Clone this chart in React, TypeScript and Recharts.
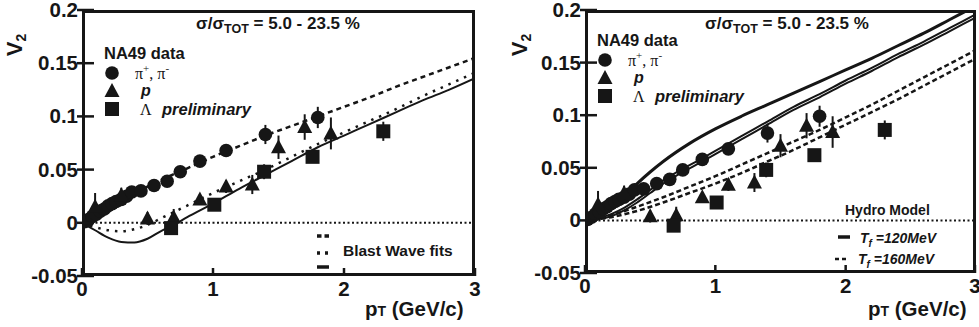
import React from "react";
import {
  ComposedChart,
  Line,
  Scatter,
  XAxis,
  YAxis,
  ReferenceLine,
  ErrorBar,
} from "recharts";

const INK = "#161616";
const FONT = "'Liberation Sans', Arial, Helvetica, sans-serif";
const SERIF = "'Liberation Serif', 'Times New Roman', serif";
const H = 327;

const xTicks = [0, 1, 2, 3];
const yTicks = [-0.05, 0, 0.05, 0.1, 0.15, 0.2];

// corners of the axis range, used to trace the closed frame
const frameCorners = [
  { pt: 0, v2: -0.05 },
  { pt: 0, v2: 0.2 },
  { pt: 3, v2: 0.2 },
  { pt: 3, v2: -0.05 },
  { pt: 0, v2: -0.05 },
];

// NA49 data points (pT in GeV/c, v2, stat. error)
const pions = [
  { pt: 0.02, v2: 0.001, err: 0.002 },
  { pt: 0.05, v2: 0.003, err: 0.002 },
  { pt: 0.08, v2: 0.006, err: 0.002 },
  { pt: 0.11, v2: 0.008, err: 0.002 },
  { pt: 0.14, v2: 0.011, err: 0.002 },
  { pt: 0.17, v2: 0.013, err: 0.002 },
  { pt: 0.2, v2: 0.016, err: 0.002 },
  { pt: 0.23, v2: 0.018, err: 0.002 },
  { pt: 0.26, v2: 0.02, err: 0.002 },
  { pt: 0.3, v2: 0.022, err: 0.002 },
  { pt: 0.34, v2: 0.025, err: 0.002 },
  { pt: 0.38, v2: 0.029, err: 0.002 },
  { pt: 0.45, v2: 0.03, err: 0.002 },
  { pt: 0.55, v2: 0.035, err: 0.002 },
  { pt: 0.65, v2: 0.039, err: 0.003 },
  { pt: 0.75, v2: 0.048, err: 0.003 },
  { pt: 0.9, v2: 0.058, err: 0.003 },
  { pt: 1.1, v2: 0.068, err: 0.004 },
  { pt: 1.4, v2: 0.083, err: 0.009 },
  { pt: 1.8, v2: 0.099, err: 0.01 },
];

const protons = [
  { pt: 0.1, v2: 0.015, err: 0.013 },
  { pt: 0.3, v2: 0.026, err: 0.007 },
  { pt: 0.5, v2: 0.004, err: 0.006 },
  { pt: 0.7, v2: 0.005, err: 0.008 },
  { pt: 0.9, v2: 0.022, err: 0.005 },
  { pt: 1.1, v2: 0.034, err: 0.006 },
  { pt: 1.3, v2: 0.036, err: 0.009 },
  { pt: 1.5, v2: 0.071, err: 0.011 },
  { pt: 1.7, v2: 0.09, err: 0.012 },
  { pt: 1.9, v2: 0.084, err: 0.015 },
];

const lambdas = [
  { pt: 0.68, v2: -0.005, err: 0.004 },
  { pt: 1.01, v2: 0.017, err: 0.003 },
  { pt: 1.39, v2: 0.048, err: 0.007 },
  { pt: 1.76, v2: 0.062, err: 0.004 },
  { pt: 2.3, v2: 0.086, err: 0.009 },
];

// Blast wave fits (left panel)
const bwPion = [
  { pt: 0, v2: 0 }, { pt: 0.1, v2: 0.007 }, { pt: 0.2, v2: 0.015 }, { pt: 0.3, v2: 0.022 },
  { pt: 0.4, v2: 0.028 }, { pt: 0.5, v2: 0.034 }, { pt: 0.6, v2: 0.04 }, { pt: 0.8, v2: 0.051 },
  { pt: 1.0, v2: 0.062 }, { pt: 1.2, v2: 0.072 }, { pt: 1.4, v2: 0.082 }, { pt: 1.6, v2: 0.091 },
  { pt: 1.8, v2: 0.1 }, { pt: 2.0, v2: 0.109 }, { pt: 2.2, v2: 0.118 }, { pt: 2.4, v2: 0.128 },
  { pt: 2.6, v2: 0.137 }, { pt: 2.8, v2: 0.146 }, { pt: 3.0, v2: 0.155 },
];
const bwProton = [
  { pt: 0, v2: 0 }, { pt: 0.1, v2: -0.004 }, { pt: 0.2, v2: -0.007 }, { pt: 0.3, v2: -0.008 },
  { pt: 0.4, v2: -0.006 }, { pt: 0.5, v2: -0.002 }, { pt: 0.6, v2: 0.004 }, { pt: 0.7, v2: 0.01 },
  { pt: 0.8, v2: 0.016 }, { pt: 1.0, v2: 0.028 }, { pt: 1.2, v2: 0.039 }, { pt: 1.4, v2: 0.05 },
  { pt: 1.6, v2: 0.062 }, { pt: 1.8, v2: 0.074 }, { pt: 2.0, v2: 0.085 }, { pt: 2.2, v2: 0.096 },
  { pt: 2.4, v2: 0.107 }, { pt: 2.6, v2: 0.119 }, { pt: 2.8, v2: 0.13 }, { pt: 3.0, v2: 0.141 },
];
const bwLambda = [
  { pt: 0, v2: 0 }, { pt: 0.1, v2: -0.007 }, { pt: 0.2, v2: -0.014 }, { pt: 0.3, v2: -0.018 },
  { pt: 0.4, v2: -0.0185 }, { pt: 0.5, v2: -0.015 }, { pt: 0.6, v2: -0.008 }, { pt: 0.7, v2: -0.002 },
  { pt: 0.8, v2: 0.005 }, { pt: 1.0, v2: 0.018 }, { pt: 1.2, v2: 0.032 }, { pt: 1.4, v2: 0.045 },
  { pt: 1.6, v2: 0.058 }, { pt: 1.8, v2: 0.071 }, { pt: 2.0, v2: 0.082 }, { pt: 2.2, v2: 0.093 },
  { pt: 2.4, v2: 0.104 }, { pt: 2.6, v2: 0.115 }, { pt: 2.8, v2: 0.125 }, { pt: 3.0, v2: 0.136 },
];

// Hydro model (right panel): Tf = 120 MeV solid, Tf = 160 MeV dashed
const hydro120a = [
  { pt: 0, v2: 0 }, { pt: 0.1, v2: 0.004 }, { pt: 0.2, v2: 0.012 }, { pt: 0.3, v2: 0.023 },
  { pt: 0.4, v2: 0.035 }, { pt: 0.5, v2: 0.046 }, { pt: 0.6, v2: 0.056 }, { pt: 0.8, v2: 0.073 },
  { pt: 1.0, v2: 0.087 }, { pt: 1.2, v2: 0.099 }, { pt: 1.4, v2: 0.11 }, { pt: 1.6, v2: 0.121 },
  { pt: 1.8, v2: 0.132 }, { pt: 2.0, v2: 0.143 }, { pt: 2.2, v2: 0.154 }, { pt: 2.4, v2: 0.166 },
  { pt: 2.6, v2: 0.178 }, { pt: 2.8, v2: 0.191 }, { pt: 3.0, v2: 0.204 },
];
const hydro120b = [
  { pt: 0, v2: 0 }, { pt: 0.1, v2: 0.002 }, { pt: 0.2, v2: 0.006 }, { pt: 0.3, v2: 0.012 },
  { pt: 0.4, v2: 0.02 }, { pt: 0.5, v2: 0.029 }, { pt: 0.6, v2: 0.038 }, { pt: 0.75, v2: 0.049 },
  { pt: 0.9, v2: 0.059 }, { pt: 1.0, v2: 0.066 }, { pt: 1.2, v2: 0.08 }, { pt: 1.4, v2: 0.094 },
  { pt: 1.6, v2: 0.108 }, { pt: 1.8, v2: 0.12 }, { pt: 2.0, v2: 0.133 }, { pt: 2.2, v2: 0.145 },
  { pt: 2.4, v2: 0.158 }, { pt: 2.6, v2: 0.17 }, { pt: 2.8, v2: 0.183 }, { pt: 3.0, v2: 0.196 },
];
const hydro120c = [
  { pt: 0, v2: 0 }, { pt: 0.1, v2: 0.001 }, { pt: 0.2, v2: 0.004 }, { pt: 0.3, v2: 0.0095 },
  { pt: 0.4, v2: 0.017 }, { pt: 0.5, v2: 0.026 }, { pt: 0.6, v2: 0.035 }, { pt: 0.75, v2: 0.046 },
  { pt: 0.9, v2: 0.056 }, { pt: 1.0, v2: 0.063 }, { pt: 1.2, v2: 0.077 }, { pt: 1.4, v2: 0.091 },
  { pt: 1.6, v2: 0.105 }, { pt: 1.8, v2: 0.117 }, { pt: 2.0, v2: 0.13 }, { pt: 2.2, v2: 0.142 },
  { pt: 2.4, v2: 0.155 }, { pt: 2.6, v2: 0.167 }, { pt: 2.8, v2: 0.18 }, { pt: 3.0, v2: 0.193 },
];
const hydro160a = [
  { pt: 0, v2: 0 }, { pt: 0.2, v2: 0.005 }, { pt: 0.4, v2: 0.013 }, { pt: 0.6, v2: 0.022 },
  { pt: 0.8, v2: 0.032 }, { pt: 1.0, v2: 0.042 }, { pt: 1.2, v2: 0.053 }, { pt: 1.4, v2: 0.064 },
  { pt: 1.6, v2: 0.075 }, { pt: 1.8, v2: 0.086 }, { pt: 2.0, v2: 0.098 }, { pt: 2.2, v2: 0.11 },
  { pt: 2.4, v2: 0.123 }, { pt: 2.6, v2: 0.136 }, { pt: 2.8, v2: 0.149 }, { pt: 3.0, v2: 0.162 },
];
const hydro160b = [
  { pt: 0, v2: 0 }, { pt: 0.2, v2: 0.003 }, { pt: 0.4, v2: 0.009 }, { pt: 0.6, v2: 0.017 },
  { pt: 0.8, v2: 0.026 }, { pt: 1.0, v2: 0.035 }, { pt: 1.2, v2: 0.045 }, { pt: 1.4, v2: 0.056 },
  { pt: 1.6, v2: 0.067 }, { pt: 1.8, v2: 0.079 }, { pt: 2.0, v2: 0.091 }, { pt: 2.2, v2: 0.103 },
  { pt: 2.4, v2: 0.115 }, { pt: 2.6, v2: 0.128 }, { pt: 2.8, v2: 0.141 }, { pt: 3.0, v2: 0.154 },
];

const Dot = (p: any) => <circle cx={p.cx} cy={p.cy} r={6.8} fill={INK} />;
const Tri = (p: any) => (
  <polygon
    points={`${p.cx},${p.cy - 8} ${p.cx - 7.5},${p.cy + 6} ${p.cx + 7.5},${p.cy + 6}`}
    fill={INK}
  />
);
const Sq = (p: any) => <rect x={p.cx - 7} y={p.cy - 7} width={14} height={14} fill={INK} />;

const YTick = (props: any) => {
  const { x, y, payload } = props;
  const ax = x + 4;
  return (
    <g>
      <line x1={ax - 5} x2={ax + 12} y1={y} y2={y} stroke={INK} strokeWidth={2.5} />
      <text x={x} y={y + 7} textAnchor="end" fontSize={20.5} fontWeight="bold" fill={INK} fontFamily={FONT}>
        {String(payload.value)}
      </text>
    </g>
  );
};

const XTick = (props: any) => {
  const { x, y, payload } = props;
  const ay = y - 4;
  return (
    <g>
      <line x1={x} x2={x} y1={ay} y2={ay - 8} stroke={INK} strokeWidth={2.5} />
      <text x={x} y={y + 16} textAnchor="middle" fontSize={20.5} fontWeight="bold" fill={INK} fontFamily={FONT}>
        {String(payload.value)}
      </text>
    </g>
  );
};

type Box = { w: number; yw: number; xh: number; top: number; right: number };
const leftBox: Box = { w: 490, yw: 82, xh: 51, top: 10, right: 15 };
const rightBox: Box = { w: 489, yw: 95, xh: 54, top: 10, right: 3 };

function Axes(b: Box) {
  return [
    <XAxis key="xb" type="number" dataKey="pt" domain={[0, 3]} ticks={xTicks} allowDataOverflow
      axisLine={false} tickLine={false} tickSize={0} tickMargin={4} tick={<XTick />} height={b.xh} />,
    <YAxis key="yl" type="number" dataKey="v2" domain={[-0.05, 0.2]} ticks={yTicks} allowDataOverflow
      axisLine={false} tickLine={false} tickSize={0} tickMargin={4} tick={<YTick />} width={b.yw} />,
    <ReferenceLine key="zero" y={0} stroke={INK} strokeWidth={2} strokeDasharray="2 2.5" />,
    // the frame is traced as a series through the corners; half of the 6px stroke
    // survives the plot-area clip, which leaves a 3px border
    <Line key="frame" data={frameCorners} dataKey="v2" type="linear" stroke={INK} strokeWidth={6}
      dot={false} activeDot={false} isAnimationActive={false} />,
  ];
}

function DataPoints() {
  return [
    <Scatter key="pi" data={pions} dataKey="v2" shape={Dot} isAnimationActive={false}>
      <ErrorBar dataKey="err" direction="y" width={0} stroke={INK} strokeWidth={2} />
    </Scatter>,
    <Scatter key="p" data={protons} dataKey="v2" shape={Tri} isAnimationActive={false}>
      <ErrorBar dataKey="err" direction="y" width={0} stroke={INK} strokeWidth={2} />
    </Scatter>,
    <Scatter key="l" data={lambdas} dataKey="v2" shape={Sq} isAnimationActive={false}>
      <ErrorBar dataKey="err" direction="y" width={0} stroke={INK} strokeWidth={2} />
    </Scatter>,
  ];
}

function Labels({ titleX, legX, legY, vX, ptX }: { titleX: number; legX: number; legY: number; vX: number; ptX: number }) {
  return (
    <g fill={INK} fontFamily={FONT} fontWeight="bold">
      <text x={titleX} y={29} fontSize={17} textAnchor="middle">
        σ/σ<tspan fontSize={12.5} dy={4}>TOT</tspan>
        <tspan dy={-4}> = 5.0 - 23.5 %</tspan>
      </text>
      <text x={legX} y={legY} fontSize={16.5}>NA49 data</text>
      <circle cx={legX + 8} cy={legY + 14} r={6.8} fill={INK} />
      <text x={legX + 31} y={legY + 20} fontSize={16} fontFamily={SERIF} fontWeight="normal">
        π<tspan fontSize={11} dy={-7}>+</tspan>
        <tspan dy={7}>, π</tspan>
        <tspan fontSize={11} dy={-7}>-</tspan>
      </text>
      <polygon
        points={`${legX + 8},${legY + 24} ${legX + 0.5},${legY + 38} ${legX + 15.5},${legY + 38}`}
        fill={INK}
      />
      <text x={legX + 37} y={legY + 37} fontSize={16} fontStyle="italic">p</text>
      <rect x={legX + 1} y={legY + 43} width={14} height={14} fill={INK} />
      <text x={legX + 36} y={legY + 56} fontSize={16} fontFamily={SERIF} fontWeight="normal">Λ</text>
      <text x={legX + 58} y={legY + 56} fontSize={16.5} fontStyle="italic">preliminary</text>
      <text transform={`translate(${vX},45) rotate(-90)`} fontSize={22} textAnchor="middle">
        V<tspan fontSize={14} dy={4}>2</tspan>
      </text>
      <text x={ptX} y={316} fontSize={20.5}>
        p<tspan fontSize={14}>T</tspan> (GeV/c)
      </text>
    </g>
  );
}

export default function App() {
  return (
    <div style={{ position: "relative", width: 979, height: H, background: "#fff", overflow: "hidden" }}>
      <style>{"body{margin:0}"}</style>

      {/* Left: blast wave fits */}
      <div style={{ position: "absolute", left: 0, top: 0, width: leftBox.w, height: H }}>
        <ComposedChart width={leftBox.w} height={H}
          margin={{ top: leftBox.top, right: leftBox.right, bottom: 0, left: 0 }}>
          {Axes(leftBox)}
          <Line data={bwPion} dataKey="v2" type="monotone" stroke={INK} strokeWidth={2.5}
            strokeDasharray="5 4" dot={false} isAnimationActive={false} />
          <Line data={bwProton} dataKey="v2" type="monotone" stroke={INK} strokeWidth={2.5}
            strokeDasharray="2.5 6" dot={false} isAnimationActive={false} />
          <Line data={bwLambda} dataKey="v2" type="monotone" stroke={INK} strokeWidth={2}
            dot={false} isAnimationActive={false} />
          {DataPoints()}
        </ComposedChart>
        <svg width={leftBox.w} height={H} style={{ position: "absolute", left: 0, top: 0, pointerEvents: "none" }}>
          <Labels titleX={278} legX={104} legY={59} vX={22} ptX={365} />
          <g fill={INK} fontFamily={FONT} fontWeight="bold">
            <line x1={317} x2={329} y1={236} y2={236} stroke={INK} strokeWidth={3.5} strokeDasharray="4.5 3" />
            <line x1={317} x2={329} y1={253} y2={253} stroke={INK} strokeWidth={3.5} strokeDasharray="3 5" />
            <line x1={317} x2={329} y1={267} y2={267} stroke={INK} strokeWidth={3.5} />
            <text x={343} y={256} fontSize={15.5}>Blast Wave fits</text>
          </g>
        </svg>
      </div>

      {/* Right: hydro model */}
      <div style={{ position: "absolute", left: 490, top: 0, width: rightBox.w, height: H }}>
        <ComposedChart width={rightBox.w} height={H}
          margin={{ top: rightBox.top, right: rightBox.right, bottom: 0, left: 0 }}>
          {Axes(rightBox)}
          <Line data={hydro120a} dataKey="v2" type="monotone" stroke={INK} strokeWidth={3}
            dot={false} isAnimationActive={false} />
          <Line data={hydro120b} dataKey="v2" type="monotone" stroke={INK} strokeWidth={2}
            dot={false} isAnimationActive={false} />
          <Line data={hydro120c} dataKey="v2" type="monotone" stroke={INK} strokeWidth={2}
            dot={false} isAnimationActive={false} />
          <Line data={hydro160a} dataKey="v2" type="monotone" stroke={INK} strokeWidth={2.5}
            strokeDasharray="5 3" dot={false} isAnimationActive={false} />
          <Line data={hydro160b} dataKey="v2" type="monotone" stroke={INK} strokeWidth={2.5}
            strokeDasharray="5 3" dot={false} isAnimationActive={false} />
          {DataPoints()}
        </ComposedChart>
        <svg width={rightBox.w} height={H} style={{ position: "absolute", left: 0, top: 0, pointerEvents: "none" }}>
          <Labels titleX={297} legX={107} legY={46} vX={37} ptX={378} />
          <g fill={INK} fontFamily={FONT} fontWeight="bold">
            <text x={355} y={215} fontSize={14}>Hydro Model</text>
            <line x1={348} x2={360} y1={237} y2={237} stroke={INK} strokeWidth={3.5} />
            <text x={370} y={243} fontSize={14} fontStyle="italic">
              T<tspan fontSize={10} dy={4}>f</tspan>
              <tspan dy={-4}> =120MeV</tspan>
            </text>
            <line x1={345} x2={359} y1={259} y2={259} stroke={INK} strokeWidth={2.5} strokeDasharray="4 3" />
            <text x={368} y={264} fontSize={14} fontStyle="italic">
              T<tspan fontSize={10} dy={4}>f</tspan>
              <tspan dy={-4}> =160MeV</tspan>
            </text>
          </g>
        </svg>
      </div>
    </div>
  );
}
